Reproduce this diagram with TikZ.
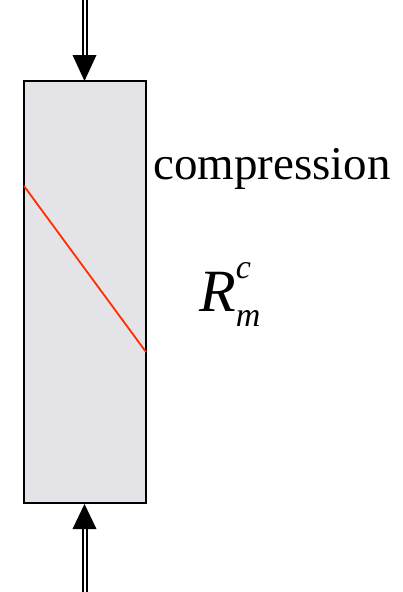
\documentclass[tikz,border=0pt]{standalone}
\usepackage{fontspec}
\setmainfont{Liberation Serif}[Ligatures=TeX]
\begin{document}
\begin{tikzpicture}[x=1pt,y=-1pt,
  shaft/.style={line width=2pt, double=white, double distance=2pt, draw=black},
  tip/.style={fill=black, draw=none},
  barbox/.style={draw=black, line width=2pt, fill={rgb,255:red,228;green,227;blue,231}},
  crackline/.style={draw={rgb,255:red,255;green,45;blue,0}, line width=1.8pt}]
\useasboundingbox (0,0) rectangle (403,592);
\node[anchor=base west, inner xsep=0pt] (lbl) at (153,179) {\fontsize{47}{47}\selectfont compression};
\node[anchor=base west, inner xsep=0pt] (rm) at (199,311) {\itshape\fontsize{60}{60}\selectfont R\rlap{\raisebox{33pt}{\fontsize{34}{34}\selectfont c}}\raisebox{-15pt}{\fontsize{34}{34}\selectfont m}};
\path[barbox] (24,81) rectangle (146,503);
\coordinate (tl) at (24,186);
\coordinate (br) at (146,352);
\path[crackline] (tl) -- (br);
\coordinate (topstart) at (84.5,-2);
\coordinate (topbase) at (84.5,56);
\coordinate (toptip) at (84.5,81);
\draw[shaft] (topstart) -- (topbase);
\path[tip] (72.5,55) -- (96.5,55) -- (toptip) -- cycle;
\coordinate (botstart) at (84.5,594);
\coordinate (botbase) at (84.5,528);
\coordinate (bottip) at (84.5,504);
\draw[shaft] (botstart) -- (botbase);
\path[tip] (72.5,529) -- (96.5,529) -- (bottip) -- cycle;
\end{tikzpicture}
\end{document}
